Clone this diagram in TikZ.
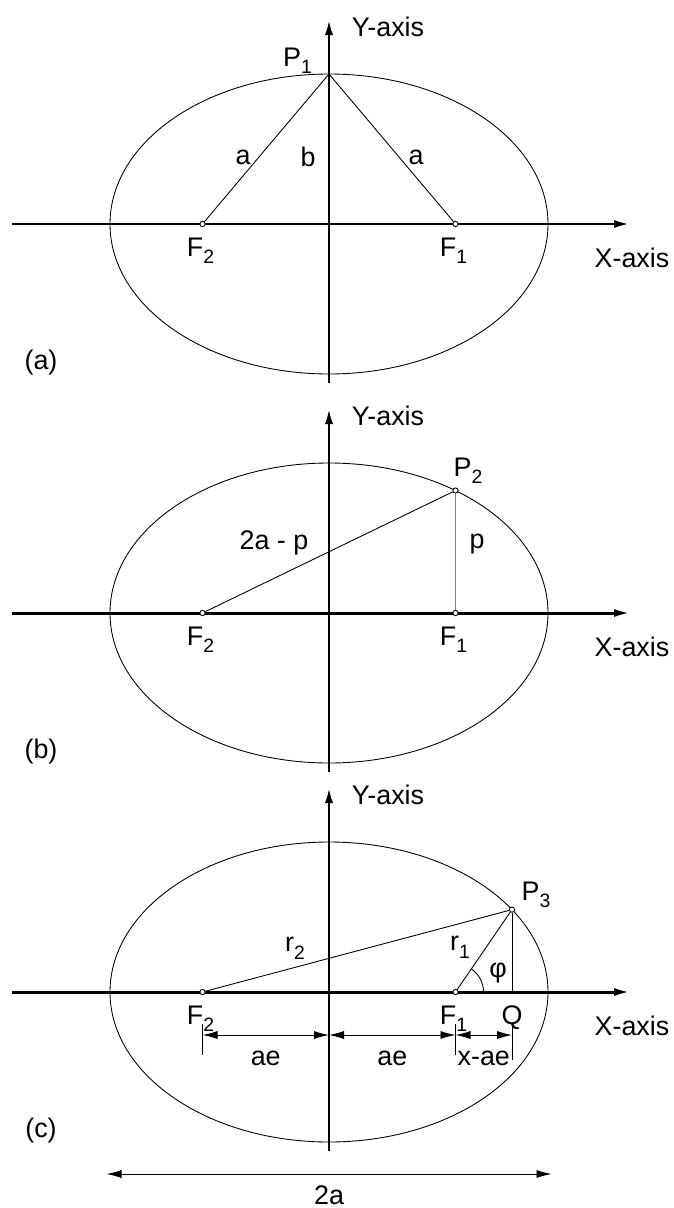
\documentclass[tikz,border=0pt]{standalone}
\usepackage{fontspec}
\setmainfont{Liberation Sans}
\usetikzlibrary{arrows.meta, calc}

\newcommand{\lowsub}[1]{\raisebox{-4.5pt}{\fontsize{11}{13}\selectfont #1}}

\begin{document}
\begin{tikzpicture}[
    font=\fontsize{15.3}{18}\selectfont,
    axis/.style={line width=1.7pt, -{Latex[length=0.34cm, width=0.16cm]}},
    curve/.style={line width=0.5pt},
    leg/.style={line width=0.5pt},
    dimline/.style={line width=0.5pt, {Latex[length=0.3cm, width=0.16cm]}-{Latex[length=0.3cm, width=0.16cm]}},
    extline/.style={line width=0.5pt},
    dot/.style={circle, draw, fill=white, line width=0.5pt, inner sep=0pt, minimum size=3pt}
]
    \useasboundingbox (0,0) rectangle (13.48,-24.16);

    % Ellipse, axes and foci (same in all three panels)
    \foreach \py/\lab in {-4.48/a, -12.26/b, -19.84/c} {
        \begin{scope}[shift={(6.58,\py)}]
            \draw [curve] (0,0) ellipse [x radius=4.38, y radius=3];
            \coordinate (xs\lab) at (-6.34,0);
            \coordinate (xe\lab) at (6.04,0);
            \coordinate (ys\lab) at (0,-3.18);
            \coordinate (ye\lab) at (0,4.12);
            \draw [axis] (xs\lab) -- (xe\lab);
            \draw [axis] (ys\lab) -- (ye\lab);
            \node [anchor=base] (ylab\lab) at (1.18,3.76) {Y-axis};
            \node [anchor=base] (xlab\lab) at (6.06,-0.86) {X-axis};
            \node (panel\lab) at (-5.76,-2.78) {(\lab)};
            \node [dot] (F1\lab) at (2.53,0) {};
            \node [dot] (F2\lab) at (-2.53,0) {};
            \node [anchor=base] (F1lab\lab) at (2.49,-0.64) {F\lowsub{1}};
            \node [anchor=base] (F2lab\lab) at (-2.57,-0.64) {F\lowsub{2}};
        \end{scope}
    }

    % (a) point on the minor axis
    \begin{scope}[shift={(6.58,-4.48)}]
        \coordinate (P1) at (0,3);
        \draw [leg] (F2a) -- (P1) -- (F1a);
        \node [anchor=base] (P1lab) at (-0.63,3.16) {P\lowsub{1}};
        \node (aleft) at (-1.72,1.34) {a};
        \node (bmid) at (-0.42,1.34) {b};
        \node (aright) at (1.74,1.34) {a};
    \end{scope}

    % (b) semi-latus rectum
    \begin{scope}[shift={(6.58,-12.26)}]
        \node [dot] (P2) at (2.53,2.45) {};
        \draw [leg] (F2b) -- (P2);
        \draw [leg, draw=gray] (P2) -- (F1b);
        \node [anchor=base] (P2lab) at (2.78,2.74) {P\lowsub{2}};
        \node (twoap) at (-1.1,1.4) {2a - p};
        \node (plab) at (2.96,1.38) {p};
    \end{scope}

    % (c) general point and distances
    \begin{scope}[shift={(6.58,-19.84)}]
        \node [dot] (P3) at (3.66,1.648) {};
        \coordinate (Q) at (3.66,0);
        \draw [leg] (F2c) -- (P3) -- (F1c);
        \draw [leg] (P3) -- (Q);
        \draw [leg] (3.09,0) arc [start angle=0, end angle=55.6, radius=0.56];
        \node [anchor=base] (P3lab) at (4.14,1.84) {P\lowsub{3}};
        \node (r2lab) at (-0.68,0.88) {r\lowsub{2}};
        \node (r1lab) at (2.62,0.9) {r\lowsub{1}};
        \node (philab) at (3.38,0.38) {φ};
        \node [anchor=base] (Qlab) at (3.66,-0.64) {Q};

        % dimension lines
        \coordinate (d0) at (-2.53,-0.86);
        \coordinate (d1) at (0,-0.86);
        \coordinate (d2) at (2.53,-0.86);
        \coordinate (d3) at (3.66,-0.86);
        \draw [extline] (-2.53,-0.64) -- (-2.53,-1.26);
        \draw [extline] (2.53,-0.64) -- (2.53,-1.26);
        \draw [extline] (3.66,-0.64) -- (3.66,-1.36);
        \draw [dimline] (d0) -- (d1) node [midway, yshift=-0.46cm] (ae1) {ae};
        \draw [dimline] (d1) -- (d2) node [midway, yshift=-0.46cm] (ae2) {ae};
        \draw [dimline] (d2) -- (d3) node [midway, yshift=-0.46cm] (xae) {x-ae};

        % major axis length
        \coordinate (L2a) at (-4.45,-3.64);
        \coordinate (R2a) at (4.45,-3.64);
        \draw [dimline] (L2a) -- (R2a);
        \node (twoa) at (0,-4.06) {2a};
    \end{scope}

\end{tikzpicture}
\end{document}
